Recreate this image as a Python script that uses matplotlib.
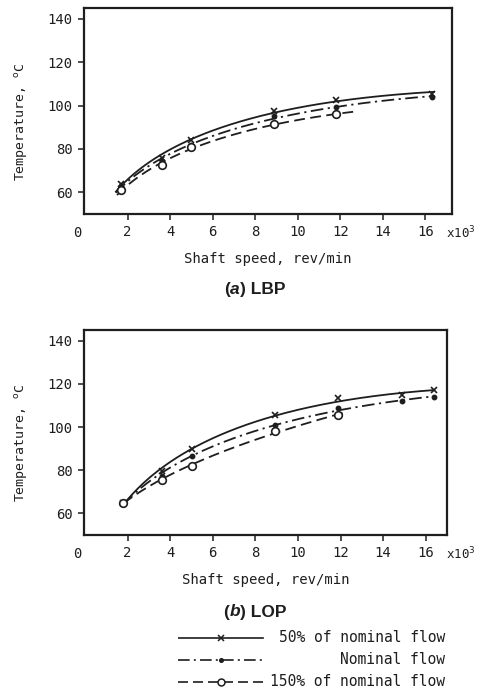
import numpy as np
import matplotlib
matplotlib.use("Agg")
import matplotlib.pyplot as plt

# --- data (speed in 10^3 rev/min, temperature in degC) ---

lbp_speed = [1.7, 3.6, 5.0, 8.9, 11.8, 16.3]
lbp_50 = [64.0, 76.0, 84.0, 97.7, 102.8, 105.5]
lbp_nom = [63.0, 74.5, 82.0, 95.0, 99.5, 104.0]
lbp_150_speed = [1.7, 3.6, 5.0, 8.9, 11.8]
lbp_150 = [61.0, 72.5, 81.0, 91.3, 96.0]
lbp_fit_range = [(1.45, 16.4), (1.45, 16.4), (1.5, 12.8)]

lop_speed = [1.8, 3.6, 5.0, 8.9, 11.9, 14.9, 16.4]
lop_50 = [65.0, 79.5, 89.7, 105.4, 113.7, 114.8, 117.0]
lop_nom = [65.0, 77.5, 86.5, 101.0, 109.0, 112.2, 113.8]
lop_150_speed = [1.8, 3.6, 5.0, 8.9, 11.9]
lop_150 = [65.0, 75.3, 82.2, 98.3, 105.4]
lop_fit_range = [(1.8, 16.4), (1.8, 16.4), (1.8, 12.3)]

x_ticks = [2, 4, 6, 8, 10, 12, 14, 16]
y_ticks = [60, 80, 100, 120, 140]
legend_labels = ["50% of nominal flow", "Nominal flow", "150% of nominal flow"]

INK = "#1e1e1e"
MONO = "DejaVu Sans Mono"
styles = [
    dict(ls="-", marker="x", ms=5, mfc=INK),
    dict(ls=(0, (7, 2.5, 1.2, 2.5)), marker="o", ms=3, mfc=INK),
    dict(ls=(0, (6, 3)), marker="o", ms=5.5, mfc="white"),
]


def fitted(x, y, lo, hi):
    """Smooth quadratic fit in sqrt(speed), like the hand-fitted curves."""
    c = np.polyfit(np.sqrt(x), y, 2)
    xs = np.linspace(lo, hi, 200)
    return xs, np.polyval(c, np.sqrt(xs))


def draw_panel(ax, series, fit_range, xmax, fig_bottom_px):
    for (x, y), (lo, hi), st in zip(series, fit_range, styles):
        xs, ys = fitted(x, y, lo, hi)
        ax.plot(xs, ys, color=INK, lw=1.3, ls=st["ls"])
        ax.plot(x, y, ls="none", marker=st["marker"], ms=st["ms"],
                mfc=st["mfc"], mec=INK, mew=1.2)

    ax.set_xlim(-0.05, xmax)
    ax.set_ylim(50, 145)
    ax.set_xticks(x_ticks)
    ax.set_yticks(y_ticks)
    ax.tick_params(direction="out", length=4, width=1.1, labelsize=10,
                   colors=INK, pad=4)
    for lab in ax.get_xticklabels() + ax.get_yticklabels():
        lab.set_family(MONO)
    for sp in ax.spines.values():
        sp.set_linewidth(1.6)
        sp.set_color(INK)

    # origin label and the x10^3 multiplier (figure pixels)
    y = 1 - (fig_bottom_px + 19) / 692
    fig.text(77 / 479, y, "0", family=MONO, fontsize=10, color=INK,
             ha="center", va="center")
    fig.text(446 / 479, y, r"x10$^{3}$", family=MONO, fontsize=9,
             color=INK, ha="left", va="center")

    ax.set_xlabel("Shaft speed, rev/min", family=MONO, fontsize=10,
                  color=INK, labelpad=9)
    ax.set_ylabel(r"Temperature, $^{\mathrm{o}}$C", family=MONO, fontsize=9.5,
                  color=INK, va="center")
    ax.yaxis.set_label_coords(-62 / ax.bbox.width, 0.45)


def panel_title(fig, y, letter, name):
    # "(a) LBP" with the letter in bold italic
    parts = [("(", "normal"), (letter, "italic"), (") " + name, "normal")]
    fig.canvas.draw()
    r = fig.canvas.get_renderer()
    texts = []
    for s, style in parts:
        texts.append(fig.text(0, y, s, fontsize=12.5, weight="bold",
                              style=style, color=INK, va="center",
                              family="Liberation Sans"))
    widths = [t.get_window_extent(r).width for t in texts]
    x = (255 - sum(widths) / 2) / fig.bbox.width
    for t, w in zip(texts, widths):
        t.set_x(x)
        x += w / fig.bbox.width


fig = plt.figure(figsize=(4.79, 6.92), dpi=100)

ax1 = fig.add_axes([84 / 479, 1 - 214 / 692, 368 / 479, 206 / 692])
draw_panel(ax1,
           [(lbp_speed, lbp_50), (lbp_speed, lbp_nom), (lbp_150_speed, lbp_150)],
           lbp_fit_range, 17.25, 214)

ax2 = fig.add_axes([84 / 479, 1 - 535 / 692, 363 / 479, 205 / 692])
draw_panel(ax2,
           [(lop_speed, lop_50), (lop_speed, lop_nom), (lop_150_speed, lop_150)],
           lop_fit_range, 17.0, 535)

panel_title(fig, 1 - 290 / 692, "a", "LBP")
panel_title(fig, 1 - 612 / 692, "b", "LOP")

# --- legend drawn by hand: line with a centred marker, text right-aligned ---
leg = fig.add_axes([178 / 479, 0, 300 / 479, 65 / 692])
leg.set_xlim(0, 300)
leg.set_ylim(65, 0)
leg.axis("off")
rows = [638 - 627, 660 - 627, 682 - 627]
for row, st, lab in zip(rows, styles, legend_labels):
    leg.plot([0, 85], [row, row], color=INK, lw=1.2, ls=st["ls"])
    leg.plot([43], [row], ls="none", marker=st["marker"], ms=st["ms"] - 0.5,
             mfc=st["mfc"], mec=INK, mew=1.1)
    leg.text(267, row, lab, family=MONO, fontsize=10.5, color=INK,
             ha="right", va="center")

fig.savefig("out.png", dpi=100)
